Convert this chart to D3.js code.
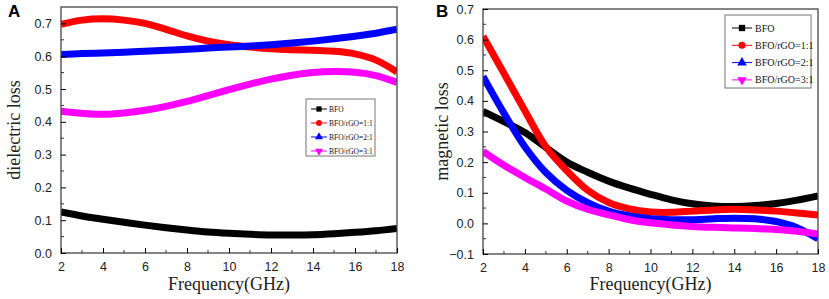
<!DOCTYPE html>
<meta charset="utf-8">
<style>
  body { margin: 0; background: #fff; }
  svg text { font-family: 'Liberation Sans', Arial, sans-serif; }
  .serif { font-family: 'Liberation Serif', 'Times New Roman', serif !important; }
</style>
<svg width="829" height="299"></svg>
<script src="https://d3js.org/d3.v7.min.js"></script>
<script>
var freq = [2, 3, 4, 5, 6, 7, 8, 9, 10, 11, 12, 13, 14, 15, 16, 17, 18];
var seriesNames = ["BFO", "BFO/rGO=1:1", "BFO/rGO=2:1", "BFO/rGO=3:1"];
var colors = ["#000000", "#ff0000", "#0000ff", "#ff00ff"];
var symbols = [d3.symbolSquare, d3.symbolCircle, d3.symbolTriangle, "down"];

// panel A: dielectric loss
var dielBFO = [0.125, 0.113, 0.103, 0.094, 0.085, 0.077, 0.070, 0.064, 0.060, 0.057, 0.055, 0.055, 0.056, 0.059, 0.063, 0.068, 0.075];
var diel11 = [0.697, 0.710, 0.714, 0.710, 0.700, 0.682, 0.662, 0.646, 0.635, 0.628, 0.623, 0.620, 0.618, 0.615, 0.607, 0.588, 0.552];
var diel21 = [0.605, 0.608, 0.610, 0.612, 0.615, 0.618, 0.621, 0.625, 0.628, 0.631, 0.635, 0.640, 0.646, 0.653, 0.661, 0.670, 0.682];
var diel31 = [0.432, 0.426, 0.423, 0.427, 0.435, 0.447, 0.462, 0.480, 0.498, 0.515, 0.530, 0.542, 0.550, 0.553, 0.551, 0.541, 0.520];

// panel B: magnetic loss
var magBFO = [0.366, 0.332, 0.297, 0.248, 0.200, 0.167, 0.138, 0.115, 0.095, 0.077, 0.064, 0.057, 0.055, 0.058, 0.065, 0.076, 0.090];
var mag11 = [0.611, 0.490, 0.368, 0.250, 0.172, 0.108, 0.068, 0.047, 0.037, 0.036, 0.040, 0.044, 0.046, 0.044, 0.040, 0.034, 0.027];
var mag21 = [0.480, 0.360, 0.250, 0.166, 0.108, 0.068, 0.040, 0.024, 0.015, 0.012, 0.012, 0.015, 0.017, 0.015, 0.006, -0.014, -0.050];
var mag31 = [0.235, 0.190, 0.150, 0.112, 0.073, 0.046, 0.028, 0.012, 0.002, -0.005, -0.010, -0.013, -0.015, -0.017, -0.020, -0.026, -0.035];

var xTicks = [2, 4, 6, 8, 10, 12, 14, 16, 18];
var yTicksA = [0.0, 0.1, 0.2, 0.3, 0.4, 0.5, 0.6, 0.7];
var yTicksB = [-0.1, 0.0, 0.1, 0.2, 0.3, 0.4, 0.5, 0.6, 0.7];

var svg = d3.select("svg");

function panel(opt) {
  var g = svg.append("g");
  var x = d3.scaleLinear().domain([2, 18]).range([opt.left, opt.right]);
  var y = d3.scaleLinear().domain(opt.ydomain).range([opt.bottom, opt.top]);

  var clipId = "clip" + opt.letter;
  g.append("clipPath").attr("id", clipId).append("rect")
      .attr("x", opt.left).attr("y", opt.top)
      .attr("width", opt.right - opt.left).attr("height", opt.bottom - opt.top);

  var line = d3.line()
      .x(function(d, i) { return x(freq[i]); })
      .y(function(d) { return y(d); })
      .curve(d3.curveCatmullRom.alpha(0.5));

  opt.series.forEach(function(s, k) {
    g.append("path")
        .attr("clip-path", "url(#" + clipId + ")")
        .attr("d", line(s))
        .attr("fill", "none")
        .attr("stroke", colors[k])
        .attr("stroke-width", opt.lw)
        .attr("stroke-linecap", "butt");
  });

  // frame
  g.append("rect")
      .attr("x", opt.left).attr("y", opt.top)
      .attr("width", opt.right - opt.left).attr("height", opt.bottom - opt.top)
      .attr("fill", "none").attr("stroke", "#444").attr("stroke-width", 1.3);

  // x axis
  var xa = g.append("g").attr("transform", "translate(0," + opt.bottom + ")")
      .call(d3.axisBottom(x).tickValues(xTicks).tickSize(-5).tickPadding(9).tickFormat(d3.format("d")));
  xa.select(".domain").remove();
  xa.selectAll("text").style("font-size", "12.5px").attr("fill", "#222");
  var xMinor = d3.range(3, 18, 2);
  g.selectAll(null).data(xMinor).enter().append("line")
      .attr("x1", function(d) { return x(d); }).attr("x2", function(d) { return x(d); })
      .attr("y1", opt.bottom).attr("y2", opt.bottom - 3)
      .attr("stroke", "#333");

  // y axis
  var ya = g.append("g").attr("transform", "translate(" + opt.left + ",0)")
      .call(d3.axisLeft(y).tickValues(opt.yticks).tickSize(-5).tickPadding(9).tickFormat(d3.format(".1f")));
  ya.select(".domain").remove();
  ya.selectAll("text").style("font-size", "12.5px").attr("fill", "#222");
  var yMinor = opt.yticks.slice(0, -1).map(function(v) { return v + 0.05; });
  g.selectAll(null).data(yMinor).enter().append("line")
      .attr("x1", opt.left).attr("x2", opt.left + 3)
      .attr("y1", function(d) { return y(d); }).attr("y2", function(d) { return y(d); })
      .attr("stroke", "#333");

  // titles
  g.append("text").attr("class", "serif")
      .attr("x", (opt.left + opt.right) / 2).attr("y", 290)
      .attr("text-anchor", "middle").style("font-size", "18px").attr("fill", "#222")
      .text("Frequency(GHz)");
  g.append("text").attr("class", "serif")
      .attr("transform", "translate(" + opt.ytx + "," + ((opt.top + opt.bottom) / 2) + ") rotate(-90)")
      .attr("text-anchor", "middle").style("font-size", "18px").attr("fill", "#222")
      .text(opt.ytitle);
  g.append("text")
      .attr("x", opt.lx).attr("y", 17)
      .style("font-size", "17px").style("font-weight", "bold")
      .text(opt.letter);

  // legend
  var L = opt.legend;
  g.append("rect")
      .attr("x", L.x).attr("y", L.y).attr("width", L.w).attr("height", L.h)
      .attr("fill", "#fff").attr("stroke", "#777").attr("stroke-width", 1);
  seriesNames.forEach(function(name, k) {
    var yy = L.y + L.first + k * L.step;
    g.append("line")
        .attr("x1", L.x + L.l0).attr("x2", L.x + L.l1)
        .attr("y1", yy).attr("y2", yy)
        .attr("stroke", colors[k]).attr("stroke-width", 1);
    var sym = symbols[k];
    var p = g.append("path")
        .attr("d", d3.symbol().type(sym === "down" ? d3.symbolTriangle : sym).size(L.ms)())
        .attr("fill", colors[k]);
    var mx = L.x + (L.l0 + L.l1) / 2;
    p.attr("transform", "translate(" + mx + "," + yy + ")" + (sym === "down" ? " rotate(180)" : ""));
    g.append("text").attr("class", "serif")
        .attr("x", L.x + L.tx).attr("y", yy).attr("dy", "0.35em")
        .style("font-size", L.fs + "px").attr("fill", "#111")
        .text(name);
  });
}

panel({
  letter: "A", lx: 8,
  left: 61, right: 397, top: 7, bottom: 253,
  ydomain: [0, 0.75], yticks: yTicksA, lw: 7,
  series: [dielBFO, diel11, diel21, diel31],
  ytitle: "dielectric loss", ytx: 20,
  legend: { x: 306, y: 99, w: 69, h: 57, first: 10, step: 14, l0: 5, l1: 21, tx: 23, fs: 7.5, ms: 28 }
});

panel({
  letter: "B", lx: 436,
  left: 483, right: 818, top: 9, bottom: 254,
  ydomain: [-0.1, 0.7], yticks: yTicksB, lw: 7,
  series: [magBFO, mag11, mag21, mag31],
  ytitle: "magnetic loss", ytx: 448,
  legend: { x: 725, y: 15, w: 86, h: 73, first: 13, step: 17.3, l0: 7, l1: 27, tx: 30, fs: 10, ms: 40 }
});
</script>
